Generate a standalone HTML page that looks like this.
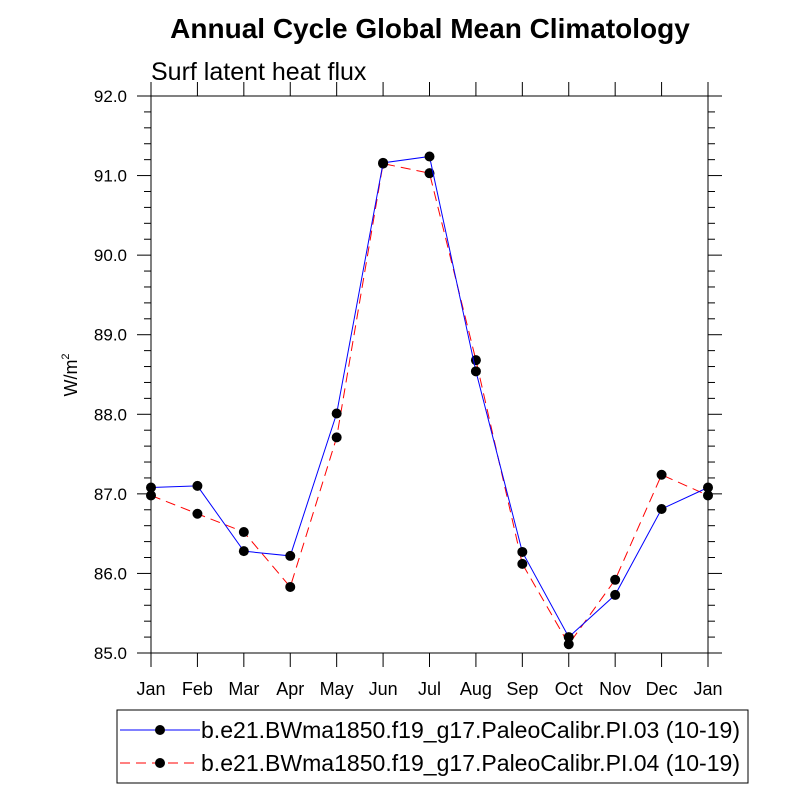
<!DOCTYPE html>
<html><head><meta charset="utf-8"><style>body{margin:0;background:#fff}svg{display:block}text{font-family:"Liberation Sans",sans-serif}</style></head>
<body>
<svg id="c" width="800" height="800">
<text x="430" y="38" text-anchor="middle" font-size="28" font-weight="bold">Annual Cycle Global Mean Climatology</text>
<text x="151" y="80" font-size="25">Surf latent heat flux</text>
<text transform="translate(77,375) rotate(-90)" text-anchor="middle" font-size="18">W/m<tspan font-size="11" dy="-8">2</tspan></text>
<g id="ax"></g><g id="marks"></g>
<rect x="117" y="710" width="631" height="73" fill="none" stroke="#000" stroke-width="1"/>
<g>
<line x1="120" y1="730" x2="200" y2="730" stroke="#00f" stroke-width="1"/><circle cx="160" cy="730" r="5" fill="#000"/>
<text x="201" y="738" font-size="23" textLength="539" lengthAdjust="spacingAndGlyphs">b.e21.BWma1850.f19_g17.PaleoCalibr.PI.03 (10-19)</text></g>
<g>
<line x1="120" y1="763" x2="200" y2="763" stroke="#f00" stroke-width="1" stroke-dasharray="10,6"/><circle cx="160" cy="763" r="5" fill="#000"/>
<text x="201" y="771" font-size="23" textLength="539" lengthAdjust="spacingAndGlyphs">b.e21.BWma1850.f19_g17.PaleoCalibr.PI.04 (10-19)</text></g>
</svg>
<script>
const months=["Jan","Feb","Mar","Apr","May","Jun","Jul","Aug","Sep","Oct","Nov","Dec","Jan"];
const seriesPI03=[87.08,87.10,86.28,86.22,88.01,91.16,91.24,88.54,86.27,85.20,85.73,86.81,87.08];
const seriesPI04=[86.98,86.75,86.52,85.83,87.71,91.15,91.03,88.68,86.12,85.11,85.92,87.24,86.98];
const yTicks=["85.0","86.0","87.0","88.0","89.0","90.0","91.0","92.0"];
const X0=151,X1=708,Y0=653,Y1=96,ymin=85,ymax=92;
const xs=i=>X0+(X1-X0)*i/(months.length-1);
const ys=v=>Y0-(v-ymin)/(ymax-ymin)*(Y0-Y1);
const NS="http://www.w3.org/2000/svg";
function mk(t,a,p){const e=document.createElementNS(NS,t);for(const k in a)e.setAttribute(k,a[k]);p.appendChild(e);return e;}
const ax=document.getElementById('ax'),mg=document.getElementById('marks');
const fr=mk('rect',{x:X0,y:Y1,width:X1-X0,height:Y0-Y1,fill:'none',stroke:'#000','stroke-width':1},ax);


months.forEach((m,i)=>{const x=xs(i);
mk('line',{x1:x,y1:Y0,x2:x,y2:Y0+14,stroke:'#000'},ax);
mk('line',{x1:x,y1:Y1,x2:x,y2:Y1-14,stroke:'#000'},ax);
const t=mk('text',{x:x,y:Y0+42,'text-anchor':'middle','font-size':18},ax);t.textContent=m;

});
for(let v=ymin;v<=ymax+1e-9;v+=0.2){const y=ys(v);const maj=Math.abs(v-Math.round(v))<1e-6;const L=maj?14:7;
mk('line',{x1:X0,y1:y,x2:X0-L,y2:y,stroke:'#000'},ax);mk('line',{x1:X1,y1:y,x2:X1+L,y2:y,stroke:'#000'},ax);}
yTicks.forEach(s=>{const v=parseFloat(s);const t=mk('text',{x:X0-24,y:ys(v)+6,'text-anchor':'end','font-size':17},ax);t.textContent=s;

});
function draw(d,col,dash,name){const g=mk('g',{},mg);


const a={points:d.map((v,i)=>xs(i)+','+ys(v)).join(' '),fill:'none',stroke:col,'stroke-width':1};if(dash)a['stroke-dasharray']=dash;mk('polyline',a,g);
d.forEach((v,i)=>{const c=mk('circle',{cx:xs(i),cy:ys(v),r:5,fill:'#000'},g);

});}
draw(seriesPI04,'#f00','10,6','series-pi04');
draw(seriesPI03,'#00f',null,'series-pi03');
</script>
</body></html>
